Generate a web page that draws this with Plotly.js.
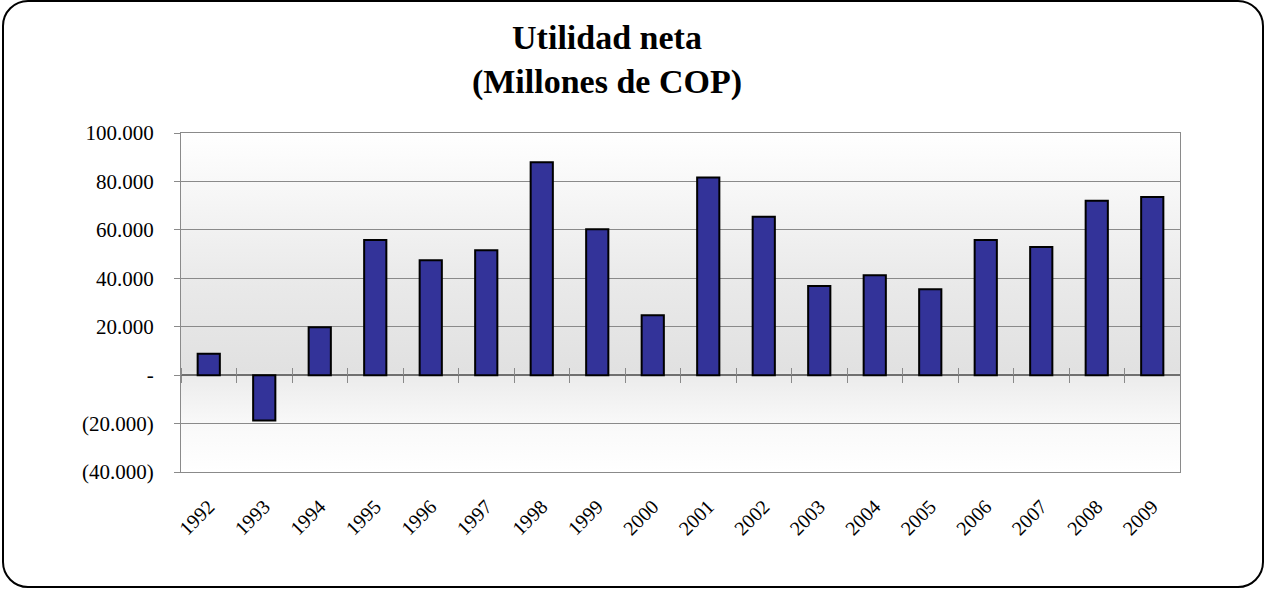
<!DOCTYPE html>
<html>
<head>
<meta charset="utf-8">
<script src="https://cdn.plot.ly/plotly-3.0.1.min.js"></script>
<style>
  html, body { margin: 0; padding: 0; background: #fff; }
  #wrap { position: relative; width: 1279px; height: 594px; }
  #chart { position: absolute; left: 0; top: 0; width: 1279px; height: 594px; }
  #frame { position: absolute; left: 2px; top: 0px; width: 1258px; height: 584px;
           border: 2.5px solid #000; border-radius: 26px; pointer-events: none; }
</style>
</head>
<body>
<div id="wrap">
  <div id="chart"></div>
  <div id="frame"></div>
</div>
<script>
// ---- data ----
const years = ['1992','1993','1994','1995','1996','1997','1998','1999','2000',
               '2001','2002','2003','2004','2005','2006','2007','2008','2009'];
const utilidad = [8800, -18700, 19800, 55800, 47500, 51600, 87900, 60200, 24700,
                  81600, 65400, 36800, 41300, 35500, 55800, 52900, 72000, 73600];
const yTickVals = [-40000, -20000, 0, 20000, 40000, 60000, 80000, 100000];
const yTickText = ['(40.000)', '(20.000)', '-', '20.000', '40.000', '60.000', '80.000', '100.000'];
const titleText = '<b>Utilidad neta</b><br><b>(Millones de COP)</b>';

// ---- layout helpers ----
const yMin = -40000, yMax = 100000;
const zeroPos = (0 - yMin) / (yMax - yMin);
const gridGray = '#8a8a8a';

const gradSvg =
  '<svg xmlns="http://www.w3.org/2000/svg" width="100" height="100" preserveAspectRatio="none">' +
  '<defs><linearGradient id="g" x1="0" y1="0" x2="0" y2="1">' +
  '<stop offset="0" stop-color="#ffffff"/>' +
  '<stop offset="0.45" stop-color="#e9e9e9"/>' +
  '<stop offset="0.70" stop-color="#e1e1e1"/>' +
  '<stop offset="0.72" stop-color="#ececec"/>' +
  '<stop offset="0.86" stop-color="#f9f9f9"/>' +
  '<stop offset="1" stop-color="#ffffff"/>' +
  '</linearGradient></defs><rect width="100" height="100" fill="url(#g)"/></svg>';
const gradUrl = 'data:image/svg+xml;charset=utf-8,' + encodeURIComponent(gradSvg);

const traces = [
  {
    type: 'bar', x: years, y: utilidad,
    marker: { color: '#333399', line: { color: '#000000', width: 2 } },
    hoverinfo: 'x+y', showlegend: false
  },
  { type: 'scatter', mode: 'markers', x: years, y: years.map(() => null),
    xaxis: 'x2', yaxis: 'y', hoverinfo: 'skip', showlegend: false },
  { type: 'scatter', mode: 'markers', x: years, y: years.map(() => null),
    xaxis: 'x3', yaxis: 'y', hoverinfo: 'skip', showlegend: false }
];

const crossAxis = (side) => ({
  type: 'category', overlaying: 'x', anchor: 'free', position: zeroPos, side: side,
  range: [-0.5, years.length - 0.5], tickson: 'boundaries',
  ticks: 'outside', ticklen: 7, tickwidth: 1, tickcolor: gridGray,
  showticklabels: false, showgrid: false, showline: false, zeroline: false, fixedrange: true
});

const layout = {
  width: 1279, height: 594,
  margin: { l: 181, r: 99, t: 133, b: 122 },
  paper_bgcolor: 'rgba(0,0,0,0)',
  plot_bgcolor: 'rgba(0,0,0,0)',
  bargap: 0.6,
  title: {
    text: titleText,
    font: { family: 'Liberation Serif, Times New Roman, serif', size: 34, color: '#000' },
    x: 607 / 1279, xref: 'container', xanchor: 'center',
    y: 1 - 49 / 594, yref: 'container', yanchor: 'top'
  },
  xaxis: {
    type: 'category', range: [-0.5, years.length - 0.5],
    tickangle: -45, ticks: '', ticklabelstandoff: 14,
    tickfont: { family: 'Liberation Serif, Times New Roman, serif', size: 20, color: '#000' },
    showline: true, linecolor: gridGray, linewidth: 1.3, mirror: true,
    showgrid: false, zeroline: false, fixedrange: true
  },
  xaxis2: crossAxis('bottom'),
  xaxis3: crossAxis('top'),
  yaxis: {
    range: [yMin, yMax], tickvals: yTickVals, ticktext: yTickText,
    ticks: 'outside', ticklen: 6, tickcolor: gridGray, tickwidth: 1.3,
    ticklabelstandoff: 16,
    tickfont: { family: 'Liberation Serif, Times New Roman, serif', size: 21, color: '#000' },
    showgrid: true, gridcolor: gridGray, gridwidth: 1.3,
    zeroline: true, zerolinecolor: '#707070', zerolinewidth: 1.5,
    showline: true, linecolor: gridGray, linewidth: 1.3, mirror: true, fixedrange: true
  },
  images: [{
    source: gradUrl, xref: 'paper', yref: 'paper', x: 0, y: 1,
    sizex: 1, sizey: 1, xanchor: 'left', yanchor: 'top',
    sizing: 'stretch', layer: 'below'
  }],
  showlegend: false
};

Plotly.newPlot('chart', traces, layout, { displayModeBar: false, staticPlot: false });
</script>
</body>
</html>
